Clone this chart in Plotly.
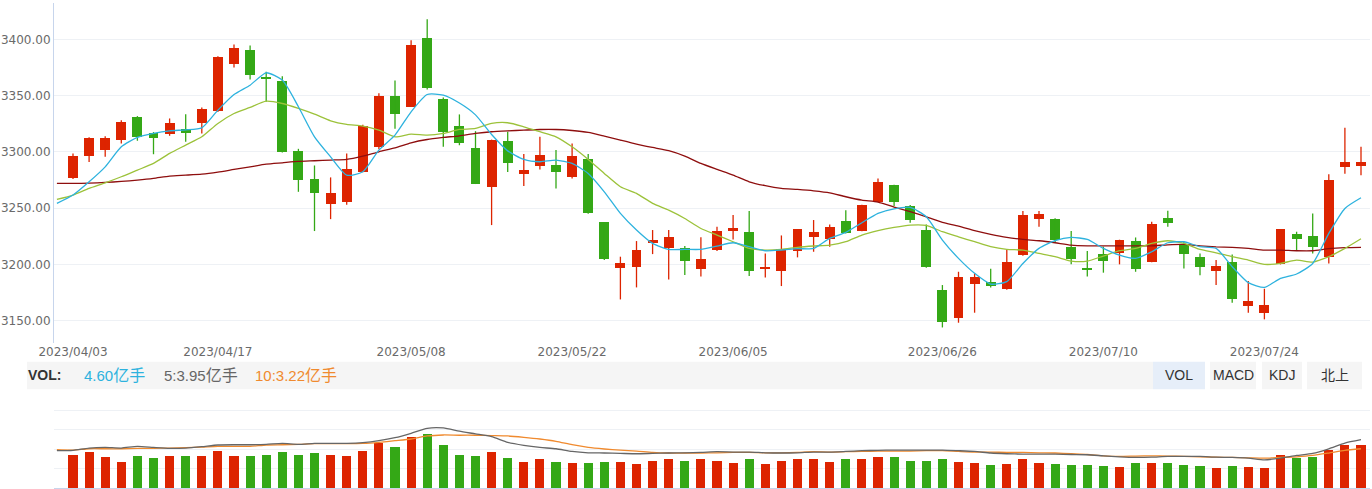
import plotly.graph_objects as go

# ---------------- data ----------------
prev_date = "2023/03/31"
dates = [
    "2023/04/03", "2023/04/04", "2023/04/06", "2023/04/07", "2023/04/10", "2023/04/11", "2023/04/12",
    "2023/04/13", "2023/04/14", "2023/04/17", "2023/04/18", "2023/04/19", "2023/04/20", "2023/04/21",
    "2023/04/24", "2023/04/25", "2023/04/26", "2023/04/27", "2023/04/28",
    "2023/05/04", "2023/05/05", "2023/05/08", "2023/05/09", "2023/05/10", "2023/05/11", "2023/05/12",
    "2023/05/15", "2023/05/16", "2023/05/17", "2023/05/18", "2023/05/19", "2023/05/22", "2023/05/23",
    "2023/05/24", "2023/05/25", "2023/05/26", "2023/05/29", "2023/05/30", "2023/05/31",
    "2023/06/01", "2023/06/02", "2023/06/05", "2023/06/06", "2023/06/07", "2023/06/08", "2023/06/09",
    "2023/06/12", "2023/06/13", "2023/06/14", "2023/06/15", "2023/06/16", "2023/06/19", "2023/06/20",
    "2023/06/21", "2023/06/26", "2023/06/27", "2023/06/28", "2023/06/29", "2023/06/30",
    "2023/07/03", "2023/07/04", "2023/07/05", "2023/07/06", "2023/07/07", "2023/07/10", "2023/07/11",
    "2023/07/12", "2023/07/13", "2023/07/14", "2023/07/17", "2023/07/18", "2023/07/19", "2023/07/20",
    "2023/07/21", "2023/07/24", "2023/07/25", "2023/07/26", "2023/07/27", "2023/07/28", "2023/07/31",
    "2023/08/01",
]

open_ = [3276.5, 3296.0, 3302.0, 3310.5, 3330.7, 3316.5, 3315.6, 3320.0, 3325.4, 3336.0,
         3378.4, 3390.5, 3366.5, 3363.3, 3300.5, 3276.2, 3254.0, 3255.2, 3282.4, 3304.6,
         3349.6, 3340.2, 3401.2, 3347.0, 3323.3, 3303.7, 3268.5, 3309.7, 3280.3, 3287.4,
         3288.0, 3277.4, 3294.0, 3237.4, 3196.5, 3198.0, 3218.7, 3214.3, 3214.3, 3195.6,
         3212.5, 3230.6, 3228.5, 3196.5, 3194.4, 3212.2, 3224.6, 3222.9, 3238.3, 3230.0,
         3255.7, 3270.6, 3251.9, 3230.6, 3177.3, 3152.1, 3182.6, 3184.7, 3177.8, 3208.0,
         3240.6, 3240.0, 3215.5, 3197.1, 3208.9, 3209.8, 3220.8, 3202.4, 3241.0, 3217.2,
         3206.6, 3194.4, 3201.8, 3163.0, 3156.5, 3200.4, 3227.0, 3225.2, 3206.3, 3286.8,
         3287.7]
high = [3298.7, 3313.0, 3314.0, 3328.3, 3331.9, 3317.7, 3329.8, 3333.6, 3339.6, 3385.0,
        3395.6, 3394.7, 3371.3, 3367.4, 3302.8, 3288.0, 3277.4, 3298.7, 3324.2, 3352.3,
        3363.6, 3399.4, 3418.0, 3348.5, 3333.4, 3318.5, 3311.0, 3318.0, 3298.1, 3313.5,
        3301.7, 3307.6, 3298.1, 3237.5, 3206.9, 3220.8, 3230.6, 3230.6, 3216.4, 3224.3,
        3233.5, 3243.9, 3247.5, 3209.8, 3225.8, 3231.5, 3239.5, 3235.6, 3248.3, 3253.0,
        3276.5, 3270.8, 3252.8, 3235.6, 3181.7, 3193.5, 3192.1, 3196.2, 3213.4, 3247.5,
        3247.5, 3241.0, 3229.7, 3211.9, 3215.8, 3222.0, 3224.0, 3238.0, 3247.7, 3220.2,
        3209.8, 3203.9, 3208.9, 3185.3, 3178.4, 3231.5, 3229.1, 3245.4, 3280.3, 3321.5,
        3304.6]
low = [3275.9, 3291.0, 3295.7, 3307.6, 3310.0, 3298.0, 3314.4, 3309.1, 3316.5, 3335.5,
       3375.1, 3364.5, 3344.6, 3299.5, 3264.6, 3229.7, 3240.3, 3253.0, 3282.0, 3302.5,
       3320.6, 3340.0, 3355.6, 3304.6, 3306.0, 3271.5, 3235.0, 3282.1, 3269.7, 3284.5,
       3267.6, 3276.5, 3245.0, 3204.0, 3168.9, 3179.6, 3209.2, 3186.7, 3190.6, 3189.4,
       3212.0, 3222.3, 3189.7, 3188.5, 3180.8, 3206.3, 3211.3, 3215.8, 3227.5, 3229.5,
       3255.5, 3251.9, 3237.1, 3197.0, 3144.0, 3148.2, 3157.1, 3179.6, 3177.5, 3207.8,
       3233.5, 3219.3, 3200.1, 3189.4, 3192.7, 3200.1, 3193.5, 3202.0, 3233.5, 3196.5,
       3190.3, 3181.7, 3166.0, 3157.1, 3151.2, 3200.0, 3212.8, 3209.8, 3200.9, 3280.6,
       3279.4]
close = [3296.0, 3312.6, 3312.6, 3327.1, 3313.5, 3312.6, 3326.0, 3316.5, 3337.8, 3384.6,
         3392.6, 3368.6, 3365.6, 3299.9, 3274.7, 3263.7, 3263.4, 3284.8, 3323.3, 3349.6,
         3333.4, 3394.7, 3356.5, 3317.7, 3307.6, 3271.7, 3310.5, 3290.1, 3283.9, 3296.9,
         3282.4, 3296.0, 3245.4, 3204.5, 3200.9, 3212.8, 3221.7, 3224.3, 3203.3, 3204.8,
         3229.4, 3232.0, 3194.4, 3198.0, 3213.4, 3231.2, 3228.5, 3233.0, 3227.6, 3252.8,
         3273.2, 3255.2, 3239.5, 3197.4, 3149.1, 3189.1, 3189.1, 3181.1, 3201.8, 3243.9,
         3245.1, 3221.7, 3205.1, 3195.6, 3203.3, 3221.7, 3195.6, 3235.9, 3236.5, 3208.9,
         3197.4, 3198.9, 3168.9, 3167.5, 3163.9, 3231.2, 3222.3, 3215.8, 3275.0, 3290.7,
         3290.7]

# volume, 亿手
volume = [2.75, 3.00, 2.56, 2.20, 2.64, 2.48, 2.64, 2.64, 2.64, 3.11,
          2.64, 2.64, 2.73, 3.00, 2.73, 2.92, 2.73, 2.64, 3.11, 3.75,
          3.39, 4.21, 4.46, 3.55, 2.73, 2.64, 3.00, 2.48, 2.20, 2.40,
          2.20, 2.12, 2.12, 2.20, 2.20, 2.04, 2.29, 2.40, 2.29, 2.40,
          2.29, 2.12, 2.40, 2.04, 2.29, 2.40, 2.40, 2.20, 2.40, 2.40,
          2.56, 2.56, 2.29, 2.29, 2.40, 2.20, 2.12, 1.93, 2.04, 2.40,
          2.12, 2.04, 1.93, 1.93, 1.84, 1.74, 2.12, 2.12, 2.12, 1.93,
          1.84, 1.65, 1.84, 1.74, 1.65, 2.73, 2.48, 2.56, 3.20, 3.58,
          3.55]

# moving averages: first value belongs to prev_date
ma5 = [3254.3, 3261.7, 3273.5, 3286.8, 3304.6, 3312.9, 3316.5, 3318.8, 3319.7, 3321.5,
       3337.2, 3351.1, 3359.4, 3370.4, 3363.9, 3340.2, 3313.5, 3295.7, 3279.4, 3282.4,
       3301.7, 3315.0, 3335.7, 3351.1, 3350.5, 3343.5, 3333.0, 3315.5, 3301.0, 3293.4,
       3291.3, 3292.8, 3289.8, 3280.9, 3264.6, 3245.4, 3230.6, 3218.7, 3213.4, 3213.4,
       3213.4, 3216.3, 3219.3, 3215.8, 3212.2, 3212.8, 3214.0, 3214.3, 3223.2, 3228.5,
       3237.1, 3245.4, 3249.5, 3250.7, 3242.4, 3221.7, 3205.4, 3192.1, 3182.6, 3184.7,
       3200.9, 3214.3, 3221.1, 3224.0, 3222.3, 3214.3, 3208.3, 3205.4, 3211.3, 3219.3,
       3220.2, 3215.8, 3214.3, 3198.0, 3183.8, 3179.6, 3187.6, 3191.5, 3200.9, 3227.6,
       3249.8, 3259.3]
ma10 = [3257.8, 3261.7, 3267.6, 3272.6, 3278.0, 3283.9, 3289.8, 3298.7, 3306.1, 3313.5,
        3325.4, 3334.2, 3339.6, 3345.2, 3343.1, 3338.7, 3333.6, 3327.7, 3324.5, 3323.0,
        3319.4, 3313.5, 3315.9, 3315.0, 3316.5, 3320.0, 3320.9, 3325.4, 3326.0, 3322.4,
        3318.0, 3313.5, 3304.6, 3293.4, 3280.9, 3269.1, 3263.2, 3254.3, 3248.3, 3240.9,
        3232.0, 3226.1, 3220.2, 3214.3, 3212.8, 3213.4, 3215.2, 3216.4, 3217.2, 3220.2,
        3226.1, 3230.0, 3232.9, 3235.0, 3234.7, 3229.1, 3224.6, 3220.2, 3215.8, 3213.4,
        3212.8, 3209.8, 3206.9, 3203.0, 3203.0, 3207.5, 3212.2, 3214.3, 3218.7, 3221.1,
        3218.7, 3213.4, 3210.4, 3206.9, 3203.9, 3200.1, 3200.9, 3203.9, 3202.1, 3206.9,
        3214.3, 3222.9]
ma30 = [3272.0, 3272.0, 3272.3, 3272.9, 3273.8, 3275.0, 3276.5, 3278.6, 3279.4, 3280.3,
        3282.1, 3284.5, 3286.8, 3289.2, 3290.4, 3291.6, 3292.2, 3292.8, 3293.4, 3296.3,
        3300.2, 3303.7, 3308.2, 3311.1, 3312.9, 3314.4, 3316.5, 3318.0, 3318.8, 3319.4,
        3320.0, 3320.0, 3319.1, 3317.4, 3314.1, 3310.5, 3307.0, 3304.0, 3301.1, 3296.3,
        3289.8, 3284.5, 3279.4, 3273.5, 3270.0, 3267.6, 3266.7, 3265.5, 3263.7, 3260.2,
        3257.2, 3255.5, 3251.0, 3246.9, 3242.4, 3237.4, 3234.1, 3230.0, 3226.7, 3224.0,
        3222.3, 3221.1, 3219.3, 3217.2, 3216.6, 3216.6, 3216.6, 3216.6, 3216.6, 3217.5,
        3217.8, 3216.6, 3215.7, 3215.2, 3214.3, 3212.8, 3212.8, 3212.2, 3212.2, 3214.0,
        3214.9, 3215.2]
vol_ma5 = [3.06, 3.09, 3.28, 3.33, 3.28, 3.42, 3.33, 3.25, 3.28, 3.39,
           3.53, 3.55, 3.55, 3.58, 3.66, 3.58, 3.66, 3.66, 3.66, 3.72,
           3.88, 4.13, 4.49, 4.90, 4.93, 4.66, 4.44, 4.21, 3.75, 3.50,
           3.33, 3.22, 3.00, 2.89, 2.87, 2.84, 2.81, 2.84, 2.87, 2.89,
           2.92, 2.98, 2.95, 2.95, 2.89, 2.87, 2.89, 2.95, 2.95, 3.00,
           3.06, 3.09, 3.11, 3.11, 3.11, 3.11, 3.06, 3.00, 2.87, 2.81,
           2.78, 2.78, 2.78, 2.75, 2.73, 2.64, 2.56, 2.51, 2.53, 2.59,
           2.59, 2.59, 2.53, 2.51, 2.45, 2.31, 2.45, 2.67, 2.84, 3.22,
           3.69, 3.97]
vol_ma10 = [3.14, 3.11, 3.22, 3.22, 3.22, 3.25, 3.25, 3.28, 3.31, 3.36,
            3.42, 3.42, 3.42, 3.53, 3.55, 3.58, 3.64, 3.64, 3.64, 3.66,
            3.75, 3.88, 4.02, 4.27, 4.35, 4.33, 4.33, 4.30, 4.27, 4.16,
            4.02, 3.83, 3.55, 3.33, 3.20, 3.11, 3.03, 2.92, 2.87, 2.87,
            2.87, 2.89, 2.92, 2.92, 2.89, 2.89, 2.92, 2.98, 2.95, 2.98,
            3.00, 3.03, 3.03, 3.03, 3.06, 3.06, 3.00, 2.95, 2.95, 2.92,
            2.92, 2.89, 2.87, 2.81, 2.75, 2.64, 2.59, 2.62, 2.64, 2.62,
            2.59, 2.56, 2.53, 2.51, 2.48, 2.45, 2.51, 2.56, 2.67, 2.87,
            3.09, 3.22]

price_ticks = [3150, 3200, 3250, 3300, 3350, 3400]
date_ticks = ["2023/04/03", "2023/04/17", "2023/05/08", "2023/05/22",
              "2023/06/05", "2023/06/26", "2023/07/10", "2023/07/24"]
vol_texts = ["4.60", "5:3.95", "10:3.22"]
vol_unit = "亿手"
buttons = ["VOL", "MACD", "KDJ", "北上"]

# ---------------- styles ----------------
W, H = 1372, 489
RED, GREEN = "#dd2400", "#34a816"
C_MA5, C_MA10, C_MA30 = "#2db2de", "#9cc23a", "#8e0e0e"
C_VMA5, C_VMA10 = "#666666", "#f08a2e"
AXIS_BLUE = "#c7d5ec"
GRID = "#eef1f5"
TICK_FONT = dict(family="DejaVu Sans", size=12, color="#6a6a6a")


def px_x(p):
    return p / W


def px_y(p):
    return 1 - p / H


n = len(dates)
xs = list(range(n))
ma_x = list(range(-1, n))
up = [c >= o for o, c in zip(open_, close)]
colors = [RED if u else GREEN for u in up]
body_base = [min(o, c) for o, c in zip(open_, close)]
body_h = [max(abs(c - o), 0.9) for o, c in zip(open_, close)]

fig = go.Figure()

# wicks
for flag, col in ((True, RED), (False, GREEN)):
    wx, wy = [], []
    for i in xs:
        if up[i] == flag:
            wx += [i, i, None]
            wy += [low[i], high[i], None]
    fig.add_trace(go.Scatter(x=wx, y=wy, mode="lines", line=dict(color=col, width=1.3),
                             hoverinfo="skip", xaxis="x", yaxis="y"))

# bodies
fig.add_trace(go.Bar(x=xs, y=body_h, base=body_base, width=0.62,
                     marker=dict(color=colors, line=dict(width=0)),
                     xaxis="x", yaxis="y", hovertext=dates))

# price MAs
for arr, col in ((ma30, C_MA30), (ma10, C_MA10), (ma5, C_MA5)):
    fig.add_trace(go.Scatter(x=ma_x, y=arr, mode="lines",
                             line=dict(color=col, width=1.3, shape="spline", smoothing=0.6),
                             hoverinfo="skip", xaxis="x", yaxis="y"))

# volume bars
fig.add_trace(go.Bar(x=xs, y=volume, width=0.56,
                     marker=dict(color=colors, line=dict(width=0)),
                     xaxis="x2", yaxis="y2", hovertext=dates))
for arr, col in ((vol_ma10, C_VMA10), (vol_ma5, C_VMA5)):
    fig.add_trace(go.Scatter(x=ma_x, y=arr, mode="lines",
                             line=dict(color=col, width=1.3, shape="spline", smoothing=0.6),
                             hoverinfo="skip", xaxis="x2", yaxis="y2"))

# axis geometry: candle 0 at 73px, 16.1px per trading day, plot from 54px to 1370px
x0_px, step_px = 73, 16.1
xr = [(54 - x0_px) / step_px, (1370 - x0_px) / step_px]


# price scale: 3400 at 39.5px, 1.1248 px per point
def price_at(p):
    return 3400 - (p - 39.5) / 1.1248


fig.update_layout(
    width=W, height=H, autosize=False,
    margin=dict(l=0, r=0, t=0, b=0, autoexpand=False),
    paper_bgcolor="white", plot_bgcolor="white",
    showlegend=False, barmode="overlay", bargap=0,
    xaxis=dict(domain=[px_x(54), px_x(1370)], range=xr, anchor="y", automargin=False,
               showgrid=False, zeroline=False, showline=False, ticks="",
               tickvals=[dates.index(d) for d in date_ticks], ticktext=date_ticks,
               tickfont=TICK_FONT),
    yaxis=dict(domain=[px_y(343), px_y(3)], range=[price_at(343), price_at(3)],
               anchor="x", automargin=False,
               tickvals=price_ticks, ticktext=[f"{v:.2f}" for v in price_ticks],
               tickfont=TICK_FONT, ticks="", showgrid=True, gridcolor=GRID, gridwidth=1,
               zeroline=False, showline=True, linecolor=AXIS_BLUE, linewidth=1),
    xaxis2=dict(domain=[px_x(54), px_x(1370)], range=xr, anchor="y2", matches="x",
                automargin=False,
                showgrid=False, zeroline=False, showline=True, linecolor=AXIS_BLUE,
                linewidth=1, showticklabels=False, ticks=""),
    yaxis2=dict(domain=[px_y(488), px_y(390.5)], range=[0, 8], anchor="x2", automargin=False,
                tickvals=[1.6, 3.2, 4.8, 6.4], showticklabels=False, ticks="",
                showgrid=True, gridcolor=GRID, zeroline=False, showline=False),
)

# header bar
shapes = [dict(type="rect", xref="paper", yref="paper", x0=px_x(27), x1=px_x(1153),
               y0=px_y(389.3), y1=px_y(361.7), fillcolor="#f5f5f5", line=dict(width=0), layer="below")]
btn_spans = [(1153, 1205), (1210, 1256), (1262, 1302), (1307, 1362)]
for k, (a, b) in enumerate(btn_spans):
    shapes.append(dict(type="rect", xref="paper", yref="paper", x0=px_x(a), x1=px_x(b),
                       y0=px_y(389.3), y1=px_y(361.7),
                       fillcolor="#e6eef9" if k == 0 else "#f5f5f5",
                       line=dict(width=0), layer="below"))
fig.update_layout(shapes=shapes)

annos = []
hdr_y = px_y(375)
annos.append(dict(text="<b>VOL:</b>", x=px_x(26), y=hdr_y, xref="paper", yref="paper",
                  xanchor="left", yanchor="middle", showarrow=False,
                  font=dict(family="Liberation Sans", size=14, color="#333333")))
for txt, left, col in zip(vol_texts, (82, 162, 253), (C_MA5, "#666666", C_VMA10)):
    annos.append(dict(text=f"{txt}<span style='font-size:16px'>{vol_unit}</span>",
                      x=px_x(left), y=hdr_y, xref="paper", yref="paper",
                      xanchor="left", yanchor="middle", showarrow=False,
                      font=dict(family="Liberation Sans, Noto Sans CJK SC", size=15, color=col)))
for txt, (a, b) in zip(buttons, btn_spans):
    annos.append(dict(text=txt, x=px_x((a + b) / 2), y=hdr_y, xref="paper", yref="paper",
                      xanchor="center", yanchor="middle", showarrow=False,
                      font=dict(family="Liberation Sans, Noto Sans CJK SC", size=14, color="#333333")))
fig.update_layout(annotations=annos)

fig.write_html(
    "out.html",
    config={"responsive": False, "displayModeBar": False},
    post_script="document.body.style.margin='0';document.body.style.overflow='hidden';"
                "document.documentElement.style.overflow='hidden';",
)
